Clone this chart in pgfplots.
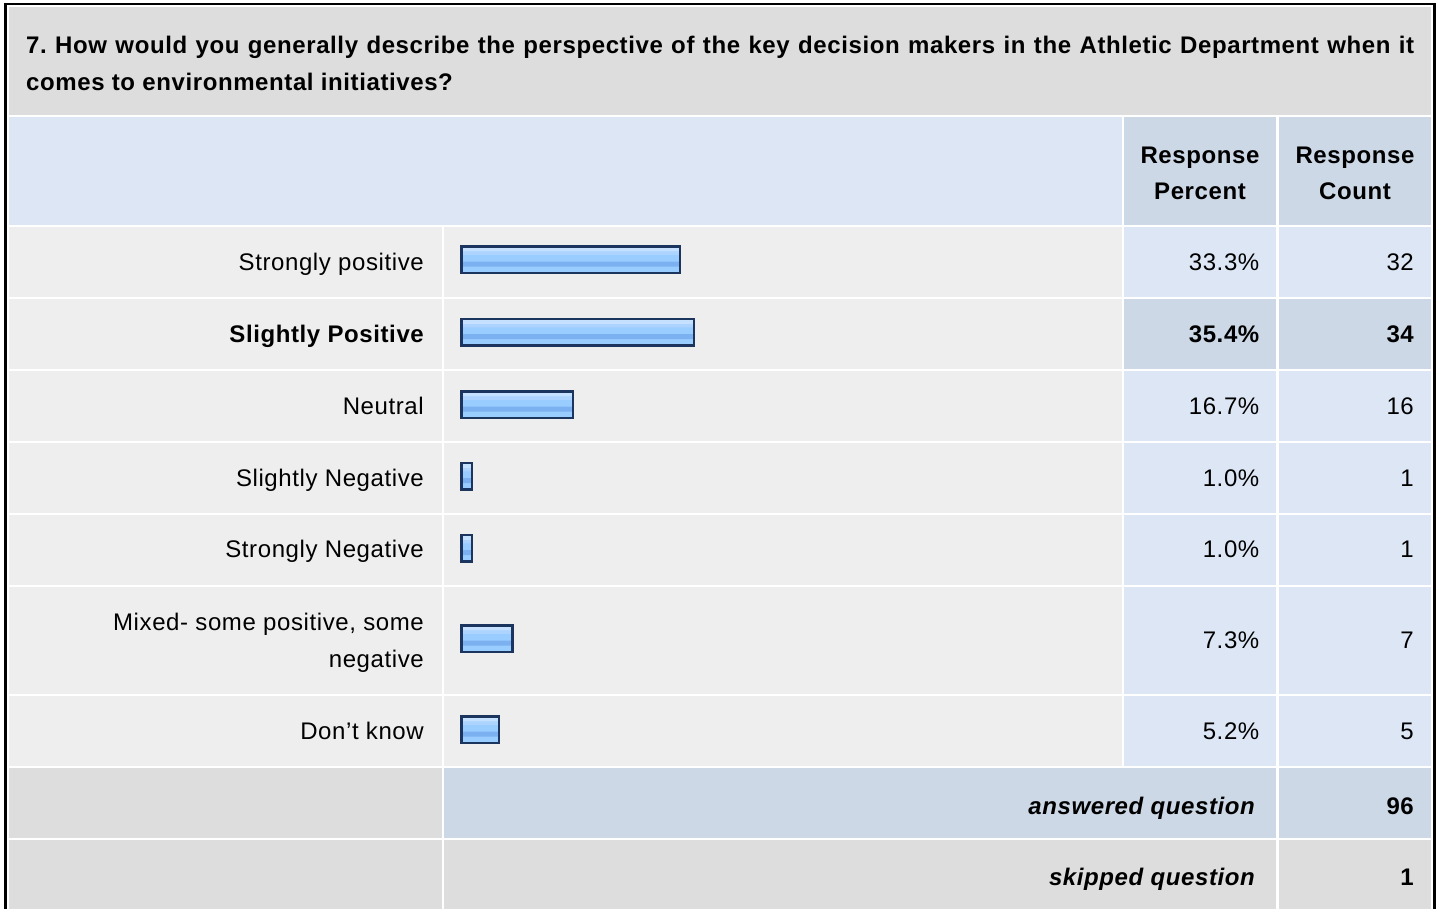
\documentclass[border=0pt]{standalone}
\usepackage{fontspec}
\setmainfont{Liberation Sans}[LetterSpace=2.5]
\usepackage{pgfplots}
\pgfplotsset{compat=1.18}
\usepackage{pgfplotstable}

\definecolor{titlegray}{HTML}{DDDDDD}
\definecolor{hdrblue}{HTML}{DCE6F4}
\definecolor{darkblue}{HTML}{CCD8E6}
\definecolor{rowgray}{HTML}{EEEEEE}
\definecolor{barborder}{HTML}{1C355E}
\definecolor{barmain}{HTML}{99CCFF}
\definecolor{bardark}{HTML}{7BB1F0}
\definecolor{barlight}{HTML}{C5E1FF}
\definecolor{barmid}{HTML}{ADD4FF}

% bar centres (pixel rows from top) and response percent
\pgfplotstableread{
y     pct
259.5 33.3
332   35.4
404.5 16.7
476   1.0
548   1.0
638.5 7.3
729.5 5.2
}\bardata

\newcommand\fs{\fontsize{24}{36}\selectfont}

\begin{document}
\frenchspacing
\begin{tikzpicture}[x=1pt,y=-1pt]
\useasboundingbox (0,0) rectangle (1440,909);
\fill[white] (0,0) rectangle (1440,909);
\begin{scope}
\clip (0,0) rectangle (1440,909);
% title band
\fill[titlegray] (8.5,7) rectangle (1431,115);
% header
\fill[hdrblue] (9,117.5) rectangle (1122,224.7);
\fill[darkblue] (1124,117.5) rectangle (1276,224.7);
\fill[darkblue] (1279,117.5) rectangle (1431,224.7);
% answer rows
\foreach \a/\b/\pc in {226.7/297/hdrblue, 299/369/darkblue, 371/441/hdrblue, 443/512.5/hdrblue, 514.5/584.5/hdrblue, 587/693.5/hdrblue, 696/766/hdrblue} {
  \fill[rowgray] (9,\a) rectangle (442,\b);
  \fill[rowgray] (444,\a) rectangle (1122,\b);
  \fill[\pc] (1124,\a) rectangle (1276,\b);
  \fill[\pc] (1279,\a) rectangle (1431,\b);
}
% answered
\fill[titlegray] (9,768) rectangle (442,837.5);
\fill[darkblue] (444,768) rectangle (1276,837.5);
\fill[darkblue] (1279,768) rectangle (1431,837.5);
% skipped
\fill[titlegray] (9,839.5) rectangle (442,920);
\fill[titlegray] (444,839.5) rectangle (1276,920);
\fill[titlegray] (1279,839.5) rectangle (1431,920);
\draw[black, line width=2.7pt] (5.3,4) rectangle (1434.3,930);
\end{scope}

\begin{scope}[every node/.style={inner sep=0pt, font=\fs}]
% title
\node[anchor=base west, font=\fs\bfseries] at (26,54) {\makebox[1388pt][s]{7. How would you generally describe the perspective of the key decision makers in the Athletic Department when it}};
\node[anchor=base west, font=\fs\bfseries] at (26,90.5) {comes to environmental initiatives?};
% header
\node[anchor=base, font=\fs\bfseries] at (1200,163.3) {Response};
\node[anchor=base, font=\fs\bfseries] at (1200,200) {Percent};
\node[anchor=base, font=\fs\bfseries] at (1355,163.3) {Response};
\node[anchor=base, font=\fs\bfseries] at (1355,200) {Count};
% labels
\node[anchor=base east] at (424,270.2) {Strongly positive};
\node[anchor=base east, font=\fs\bfseries] at (424,342.3) {Slightly Positive};
\node[anchor=base east] at (424,414.3) {Neutral};
\node[anchor=base east] at (424,486) {Slightly Negative};
\node[anchor=base east] at (424,557.8) {Strongly Negative};
\node[anchor=base east] at (424,630.5) {Mixed- some positive, some};
\node[anchor=base east] at (424,667) {negative};
\node[anchor=base east] at (424,739.3) {Don’t know};
% percents
\node[anchor=base east] at (1259.5,270.2) {33.3\%};
\node[anchor=base east, font=\fs\bfseries] at (1259.5,342.3) {35.4\%};
\node[anchor=base east] at (1259.5,414.3) {16.7\%};
\node[anchor=base east] at (1259.5,486) {1.0\%};
\node[anchor=base east] at (1259.5,557.8) {1.0\%};
\node[anchor=base east] at (1259.5,648.8) {7.3\%};
\node[anchor=base east] at (1259.5,739.3) {5.2\%};
% counts
\node[anchor=base east] at (1414,270.2) {32};
\node[anchor=base east, font=\fs\bfseries] at (1414,342.3) {34};
\node[anchor=base east] at (1414,414.3) {16};
\node[anchor=base east] at (1414,486) {1};
\node[anchor=base east] at (1414,557.8) {1};
\node[anchor=base east] at (1414,648.8) {7};
\node[anchor=base east] at (1414,739.3) {5};
% summary
\node[anchor=base east, font=\fs\bfseries\itshape] at (1255,814) {answered question};
\node[anchor=base east, font=\fs\bfseries] at (1414,814) {96};
\node[anchor=base east, font=\fs\bfseries\itshape] at (1255,885) {skipped question};
\node[anchor=base east, font=\fs\bfseries] at (1414,885) {1};
\end{scope}

\begin{axis}[at={(461.25pt,0pt)}, anchor=north west, scale only axis,
  width=644.6pt, height=909pt, xmin=0, xmax=100, ymin=0, ymax=909,
  y dir=reverse, hide axis, clip=false]
% body of the bars
\addplot[xbar, bar width=26.5pt, bar shift=0pt, fill=barmain, draw=none]
  table[x expr=\thisrow{pct}+0.67, y=y] {\bardata};
% gloss stripes (light at the top, darker band below the middle)
\addplot[xbar, bar width=5.35pt, bar shift=10.6pt, fill=barlight, draw=none]
  table[x expr=\thisrow{pct}+0.67, y=y] {\bardata};
\addplot[xbar, bar width=3.3pt, bar shift=6.25pt, fill=barmid, draw=none]
  table[x expr=\thisrow{pct}+0.67, y=y] {\bardata};
\addplot[xbar, bar width=5pt, bar shift=-4.6pt, fill=bardark, draw=none]
  table[x expr=\thisrow{pct}+0.67, y=y] {\bardata};
% outline
\addplot[xbar, bar width=26.5pt, bar shift=0pt, fill=none, draw=barborder, line width=2.5pt]
  table[x expr=\thisrow{pct}+0.67, y=y] {\bardata};
\end{axis}
\end{tikzpicture}
\end{document}
